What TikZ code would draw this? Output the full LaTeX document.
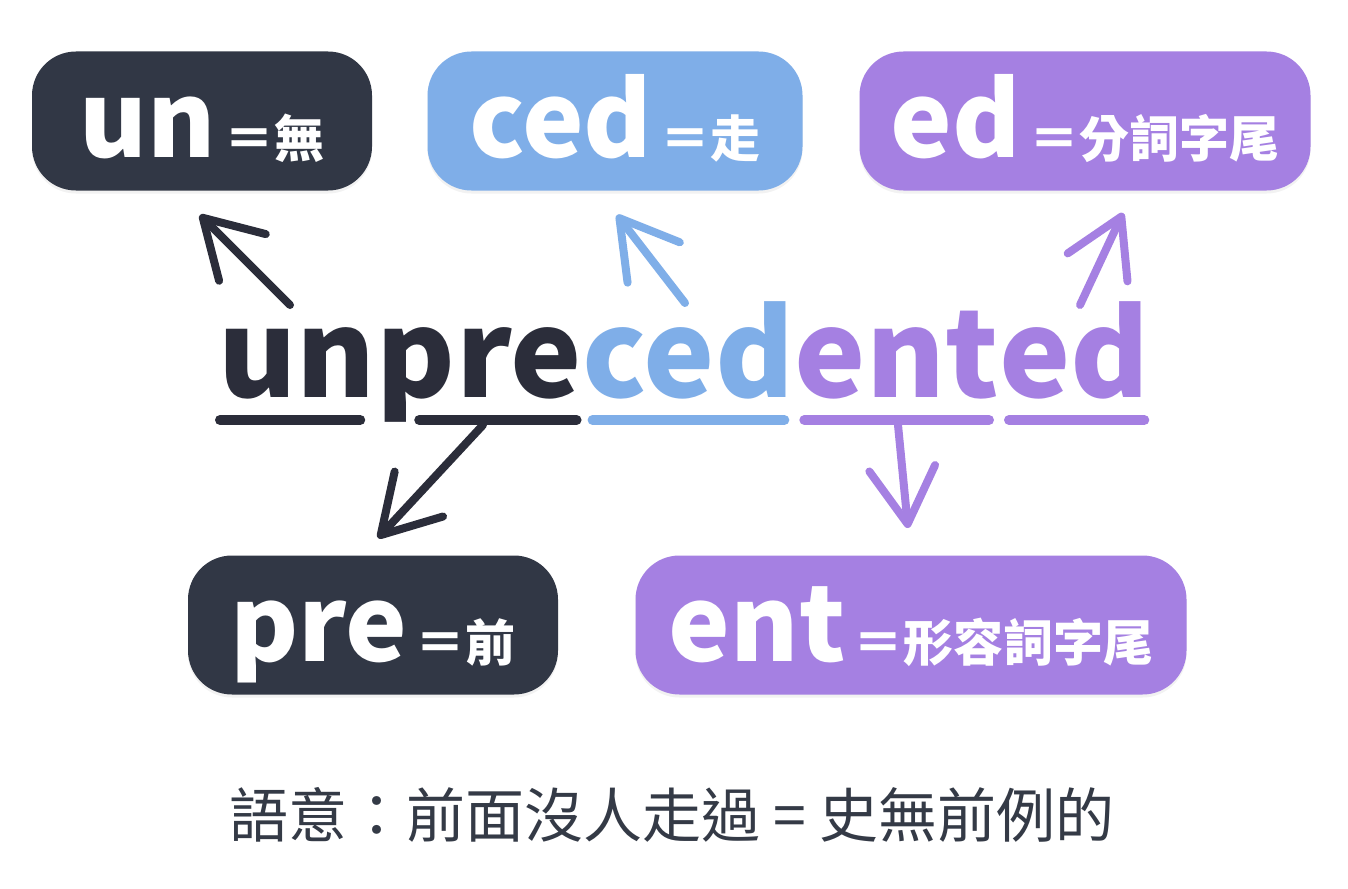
\documentclass[tikz,border=0pt]{standalone}
\usepackage{fontspec}
\setmainfont{Noto Sans CJK TC}
\usetikzlibrary{arrows.meta,positioning,shadows}
\definecolor{ink}{HTML}{2B2D3A}
\definecolor{boxink}{HTML}{313745}
\definecolor{skyblue}{HTML}{7FAEE8}
\definecolor{lilac}{HTML}{A580E2}
\definecolor{gloss}{HTML}{343A46}
\tikzset{
  box/.style={rounded corners=22pt, minimum height=69.5pt, text height=36pt,
    text depth=0pt, inner sep=0pt, text=white, font=\bfseries,
    drop shadow={opacity=0.10, shadow xshift=0pt, shadow yshift=-1.5pt}},
  part/.style={inner sep=0pt, anchor=base west,
    font=\fontsize{60}{60}\selectfont\bfseries},
  uline/.style={line width=5pt, line cap=round},
  arr/.style={line width=4pt, line cap=round, line join=round,
    -{Straight Barb[length=28pt,width=33pt,line cap=round,line join=round]}},
}
\newcommand\RootTag[6]{
  \node[box, fill=#2, minimum width=#3] (#1) at (#4)
    {{\fontsize{52}{52}\selectfont #5}\hspace{4pt}{\fontsize{25}{25}\selectfont ＝#6}};
}
\begin{document}
\begin{tikzpicture}[x=0.5pt, y=-0.5pt]
\useasboundingbox[fill=white] (0,0) rectangle (1348,888);

% the five parts
\RootTag{unBox}{boxink}{170pt}{202,121}{un}{無}
\RootTag{cedBox}{skyblue}{187.5pt}{615,121}{ced}{走}
\RootTag{edBox}{lilac}{225.5pt}{1085,121}{ed}{分詞字尾}
\RootTag{preBox}{boxink}{185pt}{373,625}{pre}{前}
\RootTag{entBox}{lilac}{275.5pt}{911,625}{ent}{形容詞字尾}

% the word
\node[part, text=ink] (wUn) at (218,397) {un};
\node[part, text=ink] (wP) at (wUn.base east) {p};
\node[part, text=ink] (wRe) at (wP.base east) {re};
\node[part, text=skyblue] (wCed) at (wRe.base east) {ced};
\node[part, text=lilac] (wEnt) at (wCed.base east) {ent};
\node[part, text=lilac] (wEd) at (wEnt.base east) {ed};

% underlines, broken by the stem of p
\draw[uline, ink] ([shift={(1pt,-11.5pt)}]wUn.base west) -- ([shift={(-8pt,-11.5pt)}]wP.base west);
\draw[uline, ink] ([shift={(21.5pt,-11.5pt)}]wP.base west) -- ([shift={(-3pt,-11.5pt)}]wRe.base east);
\draw[uline, skyblue] ([shift={(5pt,-11.5pt)}]wCed.base west) -- ([shift={(-5pt,-11.5pt)}]wCed.base east);
\draw[uline, lilac] ([shift={(5pt,-11.5pt)}]wEnt.base west) -- ([shift={(-5pt,-11.5pt)}]wEnt.base east);
\draw[uline, lilac] ([shift={(5pt,-11.5pt)}]wEd.base west) -- ([shift={(-3pt,-11.5pt)}]wEd.base east);

% arrows
\coordinate (unTip) at (200,215);
\coordinate (cedTip) at (617,215);
\coordinate (edTip) at (1123,213);
\coordinate (preTip) at (378,538);
\coordinate (entTip) at (908,528);
\coordinate (unTail) at (290,305);
\coordinate (cedTail) at (685,303);
\coordinate (edTail) at (1080,305);
\coordinate (preTail) at (483,425);
\coordinate (entTail) at (898,425);
\draw[arr, ink] (unTail) -- (unTip);
\draw[arr, skyblue] (cedTail) -- (cedTip);
\draw[arr, lilac] (edTail) -- (edTip);
\draw[arr, ink] (preTail) -- (preTip);
\draw[arr, lilac] (entTail) -- (entTip);

\node[text=gloss, font=\fontsize{29.5}{29.5}\selectfont] (meaning) at (672,815)
  {語意：前面沒人走過 = 史無前例的};
\end{tikzpicture}
\end{document}
